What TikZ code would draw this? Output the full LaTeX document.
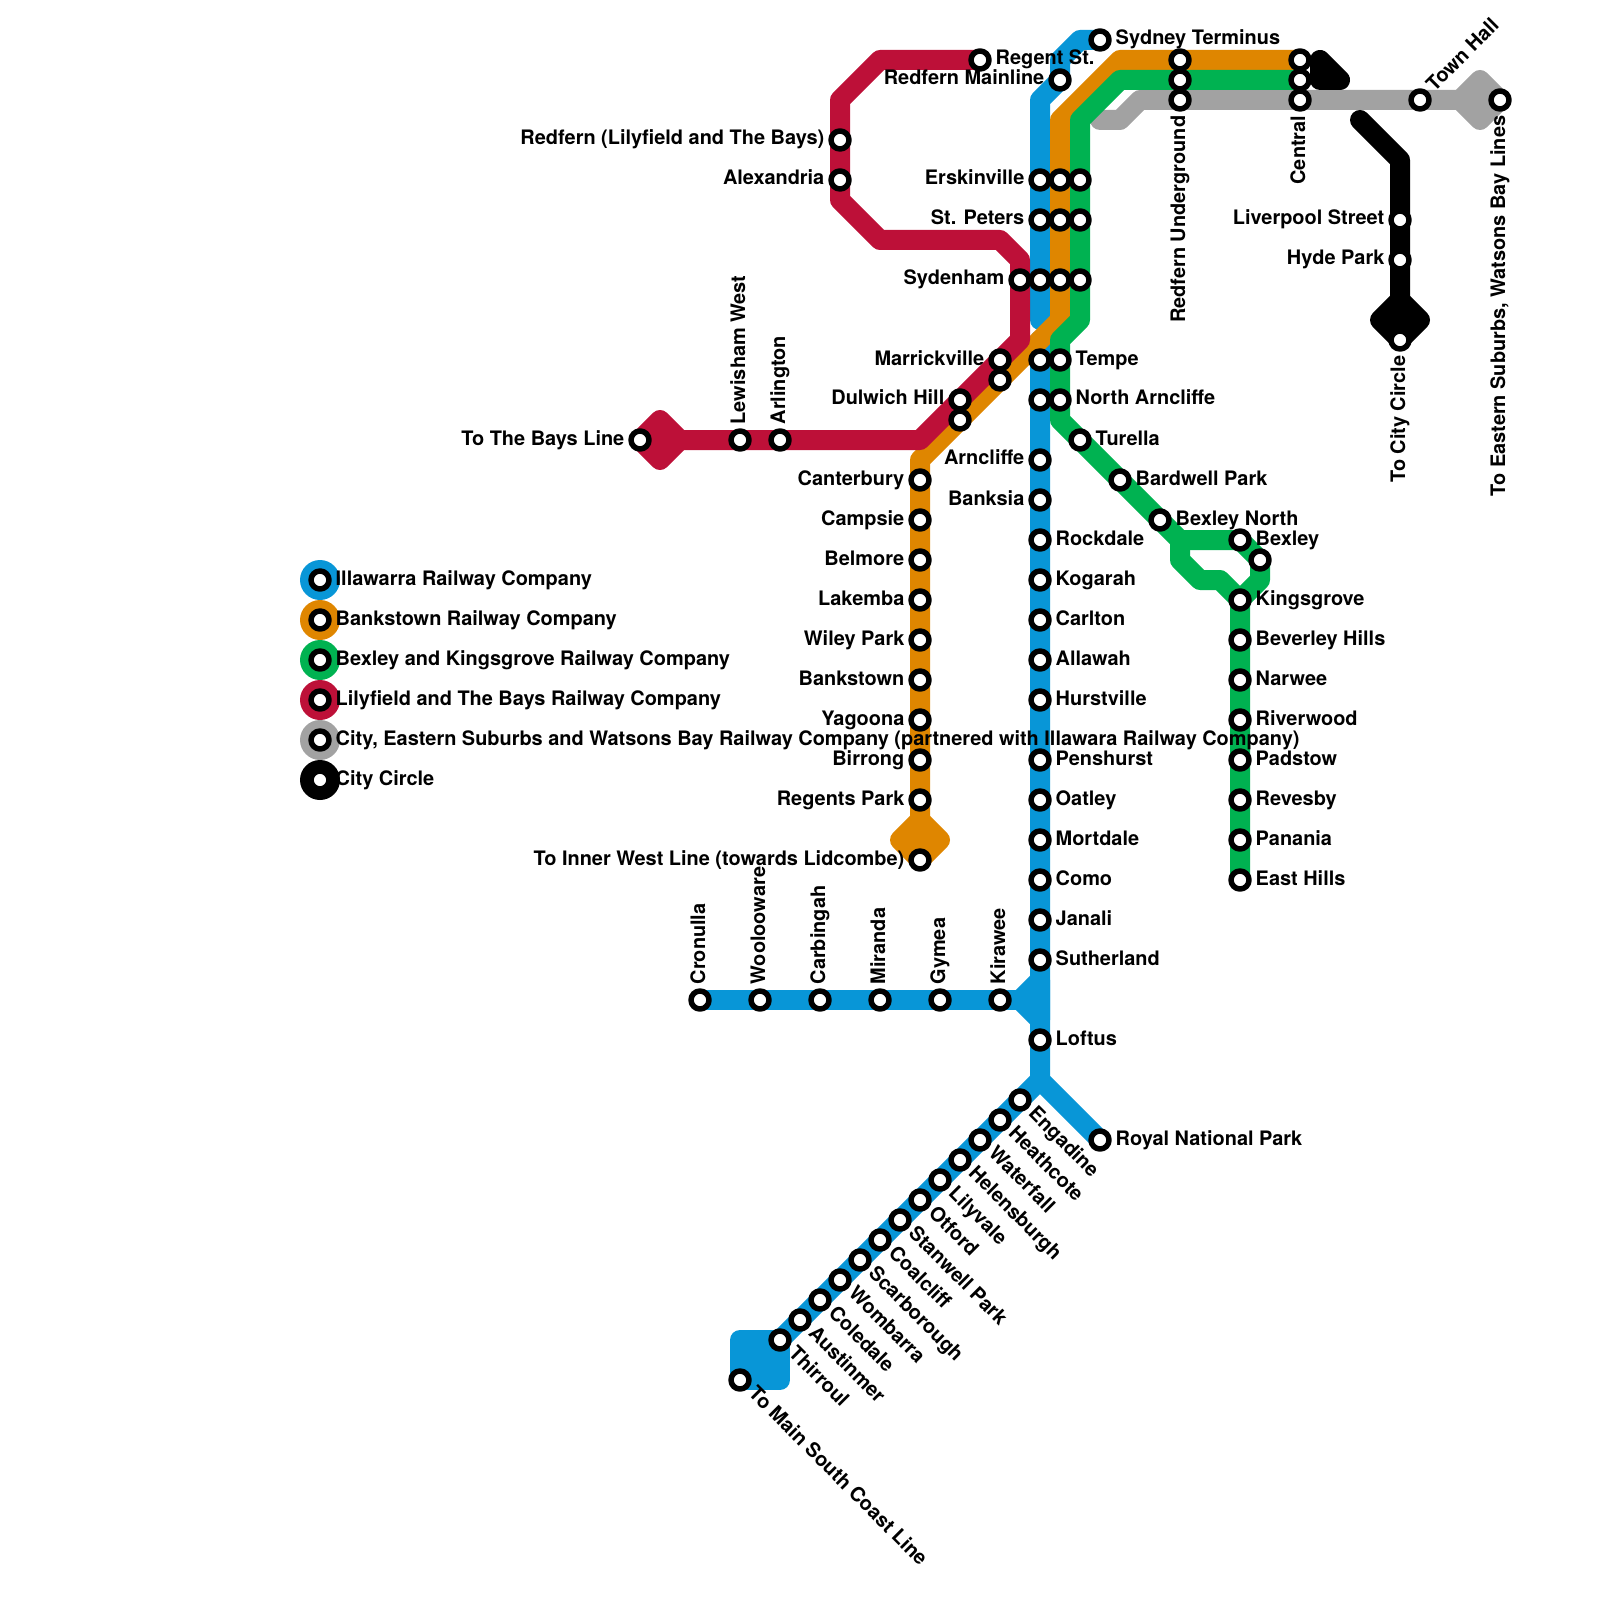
\documentclass[tikz,border=0pt]{standalone}
\usepackage{fontspec}
\setmainfont{TeX Gyre Heros}
\definecolor{illawarra}{HTML}{0896D7}
\definecolor{bankstown}{HTML}{DF8600}
\definecolor{bexley}{HTML}{00B251}
\definecolor{lilyfield}{HTML}{BD1038}
\definecolor{eastern}{HTML}{A2A2A2}
\begin{document}
\begin{tikzpicture}[x=2mm,y=-2mm,line join=round,line cap=round,font=\fontsize{5.67}{7}\selectfont\bfseries,
	rail/.style={line width=2mm},
	stn/.style={circle,draw=black,fill=white,line width=.55mm,minimum size=1.8mm,inner sep=0},
	legendspot/.style={circle,minimum size=4mm,inner sep=0},
	lblright/.style={anchor=base west,inner sep=0,xshift=1.5mm,yshift=-.5mm},
	lblleft/.style={anchor=base east,inner sep=0,xshift=-1.5mm,yshift=-.5mm}]
	\useasboundingbox (0,0) rectangle (80,80);
	% lines
	\draw[rail,eastern] (55,6)--(56,6)--(57,5)--(75,5);
	\draw[rail,eastern,fill=eastern] (73,5)--(74,4)--(75,5)--(74,6)--cycle;
	\draw[rail,black,fill=black] (66,4)--(67,4)--(66,3)--cycle;
	\draw[rail,black] (68,6)--(70,8)--(70,16);
	\draw[rail,black,fill=black] (69,16)--(70,15)--(71,16)--(70,17)--cycle;
	\draw[rail,illawarra] (55,2)--(54,2)--(53,3)--(53,4)--(52,5)--(52,16);
	\draw[rail,illawarra] (52,17)--(52,54)--(55,57);
	\draw[rail,illawarra] (52,54)--(39,67);
	\draw[rail,illawarra] (35,50)--(51,50);
	\draw[rail,illawarra,fill=illawarra] (51,50)--(52,49)--(52,51)--cycle;
	\draw[rail,illawarra,fill=illawarra] (37,67)--(39,67)--(39,69)--(37,69)--cycle;
	\draw[rail,bankstown] (65,3)--(56,3)--(53,6)--(53,16)--(46,23)--(46,43);
	\draw[rail,bankstown,fill=bankstown] (45,42)--(46,41)--(47,42)--(46,43)--cycle;
	\draw[rail,bexley] (65,4)--(56,4)--(54,6)--(54,16)--(53,17)--(53,21)--(59,27)--(62,27)--(63,28)--(63,29)--(62,30)--(62,44);
	\draw[rail,bexley] (59,27)--(59,28)--(60,29)--(61,29)--(62,30);
	\draw[rail,lilyfield] (49,3)--(44,3)--(42,5)--(42,10)--(44,12)--(50,12)--(51,13)--(51,17)--(46,22)--(32,22);
	\draw[rail,lilyfield,fill=lilyfield] (32,22)--(33,21)--(34,22)--(33,23)--cycle;
	% stations without a name beside them
	\foreach \n/\x/\y in {bk1/53/9,bx1/54/9,bk2/53/11,bx2/54/11,il3/52/14,bk3/53/14,bx3/54/14,il4/52/18,il5/52/20,
		bk4/50/19,bk5/48/21,ct1/59/3,ct2/59/4,cn1/65/3,cn2/65/4,bx4/63/28}
	\node[stn] (\n) at (\x,\y) {};
	% names to the left
	\foreach \n/\x/\y/\t in {redfernmain/53/4/Redfern Mainline,redfernlily/42/7/Redfern (Lilyfield and The Bays),
		alexandria/42/9/Alexandria,erskinville/52/9/Erskinville,stpeters/52/11/St. Peters,sydenham/51/14/Sydenham,
		marrickville/50/18/Marrickville,dulwich/48/20/Dulwich Hill,bays/32/22/To The Bays Line,
		arncliffe/52/23/Arncliffe,banksia/52/25/Banksia,canterbury/46/24/Canterbury,campsie/46/26/Campsie,
		belmore/46/28/Belmore,lakemba/46/30/Lakemba,wiley/46/32/Wiley Park,bankstown/46/34/Bankstown,
		yagoona/46/36/Yagoona,birrong/46/38/Birrong,regents/46/40/Regents Park,
		innerwest/46/43/To Inner West Line (towards Lidcombe),liverpool/70/11/Liverpool Street,hyde/70/13/Hyde Park}
	{\node[stn] (\n) at (\x,\y) {};
	\node[lblleft] (\n-lbl) at (\x,\y) {\t};}
	% names to the right
	\foreach \n/\x/\y/\t in {sydney/55/2/Sydney Terminus,regent/49/3/Regent St.,tempe/53/18/Tempe,
		northarn/53/20/North Arncliffe,turella/54/22/Turella,bardwell/56/24/Bardwell Park,bexleyn/58/26/Bexley North,
		bexleyst/62/27/Bexley,kingsgrove/62/30/Kingsgrove,beverley/62/32/Beverley Hills,narwee/62/34/Narwee,
		riverwood/62/36/Riverwood,padstow/62/38/Padstow,revesby/62/40/Revesby,panania/62/42/Panania,easthills/62/44/East Hills,
		rockdale/52/27/Rockdale,kogarah/52/29/Kogarah,carlton/52/31/Carlton,allawah/52/33/Allawah,hurstville/52/35/Hurstville,
		penshurst/52/38/Penshurst,oatley/52/40/Oatley,mortdale/52/42/Mortdale,como/52/44/Como,janali/52/46/Janali,
		sutherland/52/48/Sutherland,loftus/52/52/Loftus,royal/55/57/Royal National Park}
	{\node[stn] (\n) at (\x,\y) {};
	\node[lblright] (\n-lbl) at (\x,\y) {\t};}
	% names going up
	\foreach \n/\x/\y/\t in {lewisham/37/22/Lewisham West,arlington/39/22/Arlington,cronulla/35/50/Cronulla,
		woolooware/38/50/Woolooware,carbingah/41/50/Carbingah,miranda/44/50/Miranda,gymea/47/50/Gymea,kirawee/50/50/Kirawee}
	{\node[stn] (\n) at (\x,\y) {};
	\node[rotate=90,lblright] (\n-lbl) at (\x,\y) {\t};}
	% names going down
	\foreach \n/\x/\y/\t in {redfernund/59/5/Redfern Underground,central/65/5/Central,citycircle/70/17/To City Circle,
		easternsub/75/5/{To Eastern Suburbs, Watsons Bay Lines}}
	{\node[stn] (\n) at (\x,\y) {};
	\node[rotate=90,lblleft] (\n-lbl) at (\x,\y) {\t};}
	\node[stn] (townhall) at (71,5) {};
	\node[rotate=45,lblright] (townhall-lbl) at (71,5) {Town Hall};
	% south coast
	\foreach \n/\x/\y/\t in {engadine/51/55/Engadine,heathcote/50/56/Heathcote,waterfall/49/57/Waterfall,
		helensburgh/48/58/Helensburgh,lilyvale/47/59/Lilyvale,otford/46/60/Otford,stanwell/45/61/Stanwell Park,
		coalcliff/44/62/Coalcliff,scarborough/43/63/Scarborough,wombarra/42/64/Wombarra,coledale/41/65/Coledale,
		austinmer/40/66/Austinmer,thirroul/39/67/Thirroul,southcoast/37/69/To Main South Coast Line}
	{\node[stn] (\n) at (\x,\y) {};
	\node[rotate=-45,lblright] (\n-lbl) at (\x,\y) {\t};}
	% legend
	\foreach \n/\c/\y/\t in {keyill/illawarra/29/Illawarra Railway Company,keybank/bankstown/31/Bankstown Railway Company,
		keybex/bexley/33/Bexley and Kingsgrove Railway Company,keylily/lilyfield/35/Lilyfield and The Bays Railway Company,
		keyeast/eastern/37/{City, Eastern Suburbs and Watsons Bay Railway Company (partnered with Illawara Railway Company)},
		keycity/black/39/City Circle}
	{\node[legendspot,fill=\c] (\n-spot) at (16,\y) {};
	\node[stn] (\n) at (16,\y) {};
	\node[lblright] (\n-lbl) at (16,\y) {\t};}
\end{tikzpicture}
\end{document}
